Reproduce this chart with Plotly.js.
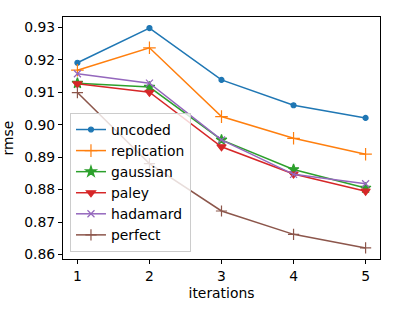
<!DOCTYPE html>
<html><head><meta charset="utf-8">
<script src="https://cdn.plot.ly/plotly-3.0.1.min.js"></script>
<style>body{margin:0;padding:0;background:#fff}#c{width:396px;height:312px}</style>
</head><body><div id="c"></div>
<script>
const iterations = [1, 2, 3, 4, 5];
const uncoded = [0.9191, 0.9298, 0.9138, 0.9060, 0.9021];
const replication = [0.9168, 0.9237, 0.9025, 0.8958, 0.8909];
const gaussian = [0.9128, 0.9116, 0.8953, 0.8862, 0.8805];
const paley = [0.9126, 0.9100, 0.8932, 0.8848, 0.8795];
const hadamard = [0.9157, 0.9128, 0.8953, 0.8847, 0.8818];
const perfect = [0.9099, 0.8880, 0.8734, 0.8662, 0.8620];

const names = ['uncoded','replication','gaussian','paley','hadamard','perfect'];
const series = [uncoded, replication, gaussian, paley, hadamard, perfect];
const colors = ['#1f77b4','#ff7f0e','#2ca02c','#d62728','#9467bd','#8c564b'];
const symbols = ['circle','cross-thin','star','triangle-down','x-thin','cross-thin'];
const sizes = [5, 9, 8, 8, 7, 8];

const data = series.map((ys, i) => ({
  x: iterations, y: ys, name: names[i], type: 'scatter', mode: 'lines+markers',
  line: {color: colors[i], width: 1.5},
  marker: {color: colors[i], symbol: symbols[i], size: sizes[i],
           line: {color: colors[i], width: 1.2}}
}));

const F = {family: 'DejaVu Sans', size: 13.9, color: '#000'};
const axisCommon = {
  showgrid: false, zeroline: false, showline: true, mirror: true,
  linecolor: '#000', linewidth: 1, ticks: 'outside', ticklen: 4, tickcolor: '#000',
  tickfont: F
};

const layout = {
  width: 396, height: 312,
  margin: {l: 63, r: 16, t: 17, b: 53},
  paper_bgcolor: '#fff', plot_bgcolor: '#fff',
  showlegend: true,
  xaxis: Object.assign({}, axisCommon, {
    range: [0.8, 5.2], tickvals: iterations, ticktext: ['1','2','3','4','5'],
    title: {text: 'iterations', font: F, standoff: 5}
  }),
  yaxis: Object.assign({}, axisCommon, {
    range: [0.8586, 0.9332], tickvals: [0.86,0.87,0.88,0.89,0.90,0.91,0.92,0.93],
    ticktext: ['0.86','0.87','0.88','0.89','0.90','0.91','0.92','0.93'],
    title: {text: 'rmse', font: F, standoff: 7}
  }),
  legend: {
    x: 0.022, y: 0.029, xanchor: 'left', yanchor: 'bottom',
    bgcolor: 'rgba(255,255,255,0.8)', bordercolor: '#ccc', borderwidth: 1,
    font: F, tracegroupgap: 0, itemwidth: 30
  }
};

Plotly.newPlot('c', data, layout, {displayModeBar: false, staticPlot: true});
</script></body></html>
